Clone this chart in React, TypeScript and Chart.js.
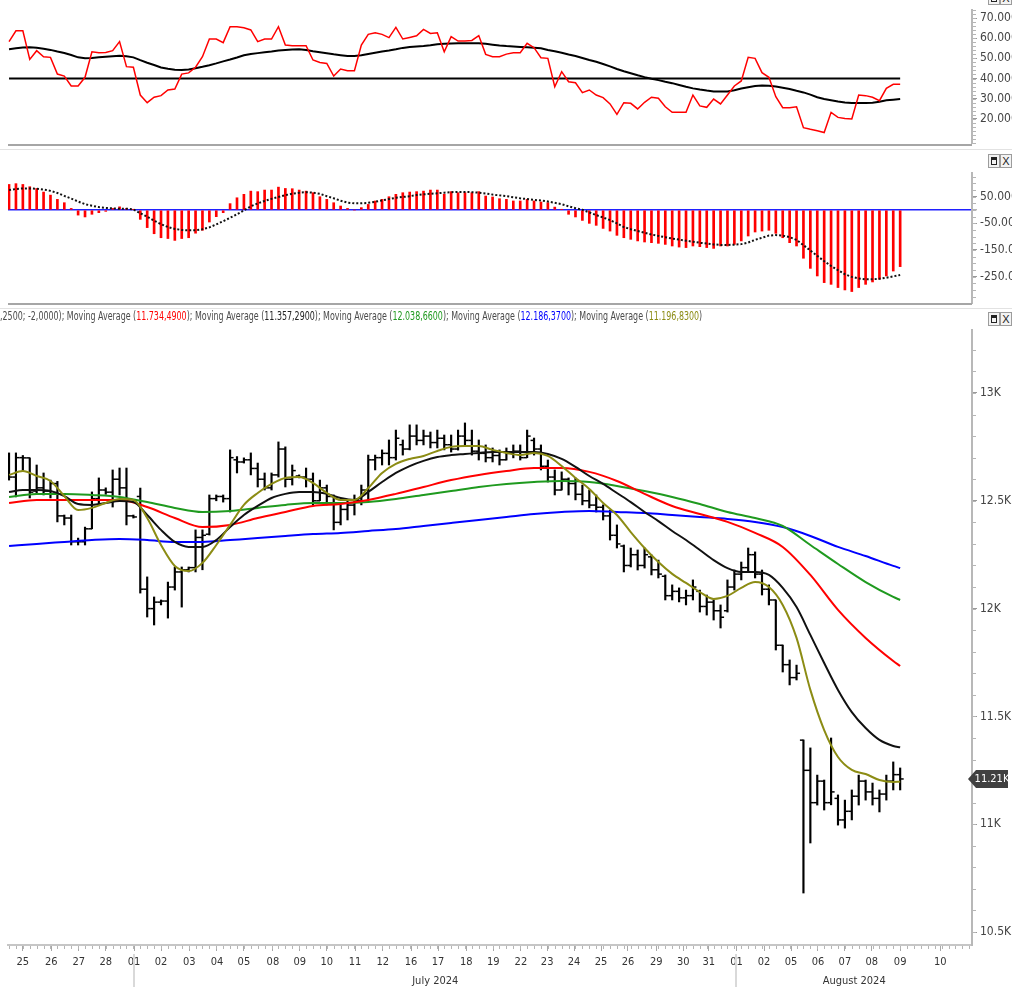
import React, { useEffect, useRef } from 'react';
import { Chart, registerables } from 'chart.js';

Chart.register(...registerables);

const FONT = '"Liberation Sans Narrow", "Arial Narrow", "DejaVu Sans Condensed", Arial, sans-serif';

// ---------- x axis (bar index positions of day starts) ----------
const dayLabels = ['25','26','27','28','01','02','03','04','05','08','09','10','11','12','16','17','18','19','22','23','24','25','26','29','30','31','01','02','05','06','07','08','09','10'];
const dayTickPos = [2.0,6.1,10.1,14.0,18.1,22.0,26.1,30.1,34.0,38.2,42.1,46.0,50.1,54.1,58.2,62.1,66.2,70.1,74.1,77.9,81.8,85.7,89.6,93.7,97.6,101.3,105.3,109.3,113.2,117.1,121.0,124.9,129.0,134.8];
const monthLabels = ['July 2024', 'August 2024'];
const monthStartPos = [18.1, 105.3];

// ---------- top panel (oscillator) ----------
const rsiValues = [58.3,63.7,63.7,49.5,53.8,50.8,50.5,42.2,41.2,36.3,
36.3,40.6,53.3,52.8,52.9,53.8,58.3,45.9,45.6,31.8,
28.0,30.7,31.5,34.3,34.8,42.2,42.8,45.6,50.8,59.6,
59.6,57.8,65.7,65.7,65.2,64.1,58.3,59.6,59.6,65.7,
56.6,56.3,56.3,56.3,49.2,48.0,47.5,41.2,44.7,43.9,
43.9,56.6,61.9,62.7,61.9,60.3,65.4,59.6,60.4,61.2,
64.4,62.4,62.7,53.3,60.8,58.6,58.6,58.9,61.3,52.0,
50.8,50.8,52.1,52.8,52.8,57.5,55.3,50.3,50.0,35.9,
43.4,38.4,37.9,33.0,34.3,31.8,30.5,27.4,22.2,28.0,
27.7,24.9,28.2,30.7,30.2,26.0,23.2,23.2,23.2,31.8,
26.4,25.7,29.8,27.4,31.8,36.3,38.8,50.5,50.0,42.9,
40.6,31.0,25.5,25.5,26.0,15.6,14.8,14.1,13.2,23.2,
20.7,20.2,19.9,31.8,31.5,30.7,29.0,35.1,37.1,37.1];
const rsiAverage = [54.5,55.0,55.4,55.5,55.3,54.8,54.2,53.4,52.7,51.7,
50.5,50.0,50.2,50.5,50.8,51.1,51.3,51.0,50.5,49.1,
47.8,46.7,45.5,44.8,44.4,44.2,44.5,45.1,45.8,46.6,
47.5,48.5,49.4,50.4,51.5,52.2,52.6,53.0,53.4,53.9,
54.2,54.4,54.5,54.1,53.5,53.0,52.5,52.0,51.6,51.2,
51.2,51.5,52.2,52.8,53.4,53.9,54.5,55.2,55.6,55.9,
56.1,56.5,57.0,57.2,57.4,57.5,57.5,57.5,57.5,57.2,
56.8,56.4,56.1,55.9,55.7,55.5,55.3,55.0,54.2,53.5,
52.8,51.9,51.2,50.2,49.2,48.3,47.2,46.0,44.7,43.6,
42.6,41.6,40.7,39.9,39.2,38.4,37.7,36.8,35.9,35.1,
34.5,34.0,33.6,33.5,33.6,34.2,35.0,35.7,36.3,36.5,
36.4,36.0,35.4,34.8,33.9,33.1,32.0,30.7,29.8,29.2,
28.6,28.1,27.8,27.8,27.9,28.0,28.5,29.2,29.5,29.8];
const rsiLevel = 40;
const topTicks = [20, 30, 40, 50, 60, 70];

// ---------- middle panel (histogram + signal) ----------
const macdHist = [96,99,96,87.5,81,67.5,56,40,27.5,6,
-19,-26,-16,-10,-5,6,12,6,2,-35,
-66,-89,-104,-107,-114,-107,-104,-87,-76,-45,
-25,-10,24,46,59,71,69,75,75,86,
81,80,75,71,65,50,40,27.5,15,6,
0,9,21,34,40,50,59,65,67.5,69,
71,75,75,59,69,65,65,65,69,52.5,
49,42.5,40,34,34,40,34,30,27.5,11,
2,-16,-26,-39,-50,-57.5,-69,-79,-95,-104,
-110,-116,-120,-122.5,-125,-129,-135,-139,-141,-135,
-137.5,-141,-144,-135,-135,-129,-116,-97.5,-82.5,-79,
-76,-87.5,-104,-122.5,-135,-181,-219,-247.5,-272.5,-279,
-291,-300,-306,-291,-279,-270,-260,-247.5,-229,-212.5];
const macdSignal = [75,79,81,81,80,77,72,64,53,43,
32,22,16,11,8,6,5,5,2,-12,
-25,-40,-53,-64,-71,-75,-76,-76,-72,-65,
-54,-42,-29,-16,-1,14,25,34,42,49,
56,61,65,67,65,61,52,44,35,28,
25,25,27,31,36,41,46,49,52,56,
59,61,63,65,67,68,68,67,65,62,
58,55,52,48,44,41,38,36,32,27,
22,14,7,1,-9,-19,-28,-38,-50,-64,
-72,-79,-85,-92,-97,-102,-107,-111,-115,-119,
-123,-126,-129,-131,-131,-130,-128,-122,-112,-104,
-96,-94,-96,-102,-112,-132,-152,-172,-192,-210,
-226,-241,-251,-257,-260,-260,-258,-254,-249,-244];
const midTicks = [50, 0, -50, -150, -250];

// ---------- main panel (OHLC) ----------
const opens = [12700,12610,12700,12699,12545,12560,12545,12580,12430,12420,
12310,12310,12370,12510,12550,12540,12600,12560,12430,12520,
12090,12000,12030,12035,12100,12170,12180,12190,12330,12345,
12510,12520,12510,12690,12680,12690,12650,12600,12560,12620,
12740,12600,12615,12610,12600,12500,12560,12520,12400,12460,
12480,12500,12550,12690,12700,12720,12700,12760,12740,12800,
12780,12800,12770,12790,12760,12740,12800,12780,12730,12720,
12700,12710,12690,12720,12730,12700,12780,12740,12660,12610,
12550,12600,12580,12530,12500,12480,12470,12430,12340,12290,
12200,12250,12200,12240,12180,12150,12060,12080,12050,12060,
12080,12010,12030,11990,11990,12100,12160,12190,12250,12160,
12090,12040,11830,11740,11680,11390,11250,11100,11200,11100,
11120,11020,11060,11130,11200,11150,11120,11140,11200,11230];
const highs = [12722,12722,12710,12699,12666,12629,12596,12590,12434,12434,
12327,12378,12541,12606,12560,12643,12652,12652,12434,12559,
12147,12054,12040,12123,12193,12193,12193,12365,12365,12527,
12527,12527,12736,12705,12699,12722,12675,12629,12629,12773,
12750,12666,12620,12652,12629,12596,12573,12527,12481,12504,
12527,12573,12712,12712,12736,12782,12828,12782,12852,12852,
12828,12819,12828,12805,12805,12828,12861,12828,12782,12759,
12745,12736,12745,12759,12759,12828,12791,12759,12689,12643,
12634,12606,12606,12573,12550,12527,12481,12457,12388,12295,
12281,12272,12281,12249,12225,12156,12110,12096,12086,12133,
12086,12063,12040,12017,12133,12179,12216,12281,12263,12179,
12110,12040,11831,11762,11738,11391,11354,11228,11205,11400,
11136,11112,11159,11228,11205,11191,11159,11228,11289,11261];
const lows = [12596,12518,12640,12513,12530,12527,12513,12402,12388,12295,
12295,12295,12370,12481,12530,12471,12527,12388,12420,12072,
11961,11924,12017,11956,12086,12007,12170,12170,12180,12341,
12500,12494,12448,12629,12675,12620,12564,12550,12550,12610,
12564,12573,12606,12564,12481,12500,12481,12365,12388,12411,
12434,12481,12504,12643,12666,12666,12689,12712,12736,12759,
12759,12745,12745,12736,12726,12735,12759,12712,12689,12680,
12680,12666,12689,12699,12689,12700,12712,12643,12587,12527,
12550,12527,12504,12481,12467,12448,12411,12318,12281,12170,
12193,12179,12188,12156,12142,12040,12040,12031,12017,12040,
11984,11970,11947,11910,11984,12086,12133,12170,12142,12063,
12017,11808,11706,11646,11669,10681,10913,11089,11066,11090,
10996,10982,11020,11089,11112,11089,11057,11112,11159,11159];
const closes = [12610,12700,12699,12540,12560,12545,12580,12430,12420,12310,
12310,12370,12510,12550,12540,12600,12560,12430,12425,12090,
12000,12030,12035,12100,12170,12180,12190,12330,12340,12510,
12520,12510,12700,12680,12690,12650,12600,12560,12620,12740,
12600,12640,12610,12600,12500,12560,12520,12400,12460,12480,
12500,12550,12690,12700,12720,12700,12790,12740,12800,12780,
12800,12770,12790,12760,12740,12800,12780,12730,12720,12700,
12710,12690,12720,12730,12700,12800,12740,12660,12610,12550,
12600,12580,12530,12500,12480,12470,12430,12340,12300,12200,
12250,12200,12250,12180,12160,12060,12080,12050,12060,12100,
12010,12030,11990,11960,12100,12160,12190,12250,12160,12090,
12040,11830,11740,11680,11700,11250,11100,11200,11100,11150,
11020,11060,11130,11200,11150,11120,11140,11200,11230,11210];

// moving averages, read every 4 bars (slow) / every 2 bars (fast)
const maSlowX = [0,4,8,12,16,20,24,28,32,36,40,44,48,52,56,60,64,68,72,76,80,84,88,92,96,100,104,108,112,116,120,124,128,129];
const maBlue = [12290,12300,12309,12318,12323,12318,12309,12309,12318,12327,12337,12346,12351,12360,12369,12383,12397,12411,12425,12439,12448,12453,12448,12443,12434,12425,12416,12402,12378,12337,12286,12244,12198,12188];
const maGreen = [12518,12532,12532,12527,12518,12494,12467,12448,12453,12467,12481,12490,12490,12494,12508,12527,12545,12564,12578,12587,12592,12587,12569,12545,12518,12485,12448,12420,12383,12295,12207,12123,12054,12040];
const maRed = [12490,12504,12504,12504,12504,12471,12420,12378,12388,12420,12448,12476,12485,12504,12532,12564,12596,12620,12638,12652,12652,12634,12592,12532,12476,12439,12402,12351,12286,12156,11994,11864,11757,11734];
const maFastX = [0,2,4,6,8,10,12,14,16,18,20,22,24,26,28,30,32,34,36,38,40,42,44,46,48,50,52,54,56,58,60,62,64,66,68,70,72,74,76,78,80,82,84,86,88,90,92,94,96,98,100,102,104,106,108,110,112,114,116,118,120,122,124,126,128,129];
const maBlack = [12541,12550,12550,12545,12522,12485,12481,12490,12499,12494,
12434,12365,12309,12286,12286,12318,12378,12434,12476,12513,
12532,12541,12541,12532,12513,12504,12541,12587,12629,12661,
12685,12703,12712,12717,12722,12726,12726,12726,12726,12717,
12694,12657,12615,12578,12536,12494,12448,12406,12360,12318,
12272,12225,12188,12170,12170,12156,12096,12007,11878,11748,
11623,11520,11446,11391,11363,11357];
const maOlive = [12620,12638,12615,12592,12522,12457,12467,12490,12508,12504,
12420,12295,12198,12174,12212,12295,12388,12481,12536,12578,
12606,12610,12583,12536,12504,12504,12559,12629,12671,12694,
12708,12731,12750,12754,12754,12736,12722,12712,12722,12708,
12661,12606,12555,12490,12434,12355,12281,12216,12161,12119,
12077,12045,12059,12096,12123,12100,12017,11864,11623,11437,
11312,11252,11233,11205,11196,11197];
const mainTicks = [10500, 11000, 11500, 12000, 12500, 13000];

const legendItems = [
  { text: '11.734,4900', color: '#ff0000' },
  { text: '11.357,2900', color: '#222222' },
  { text: '12.038,6600', color: '#1f9a1f' },
  { text: '12.186,3700', color: '#0000ff' },
  { text: '11.196,8300', color: '#8c8c14' },
];

// ---------- layout constants ----------
const W = 1012;
const AXIS_W = 40;
const X_MIN = -0.15;
const X_MAX = 139.4;

const minorTicks = {
  id: 'minorTicks',
  afterDraw(chart: any, _a: any, opts: any) {
    const ctx = chart.ctx;
    const ca = chart.chartArea;
    ctx.save();
    ctx.strokeStyle = '#b5b5b5';
    ctx.lineWidth = 1;
    if (opts && opts.yStep) {
      const ys = chart.scales.y;
      for (let v = Math.ceil(ys.min / opts.yStep) * opts.yStep; v <= ys.max; v += opts.yStep) {
        const py = Math.round(ys.getPixelForValue(v)) + 0.5;
        ctx.beginPath();
        ctx.moveTo(ca.right + 1, py);
        ctx.lineTo(ca.right + 4, py);
        ctx.stroke();
      }
    }
    if (opts && opts.xStep) {
      const xs = chart.scales.x;
      for (let v = 0; v <= xs.max; v += opts.xStep) {
        const px = Math.round(xs.getPixelForValue(v)) + 0.5;
        ctx.beginPath();
        ctx.moveTo(px, ca.bottom + 1);
        ctx.lineTo(px, ca.bottom + 4);
        ctx.stroke();
      }
    }
    ctx.restore();
  },
};

const monthPlugin = {
  id: 'months',
  afterDraw(chart: any) {
    const xs = chart.scales.x;
    const ctx = chart.ctx;
    const ca = chart.chartArea;
    ctx.save();
    monthStartPos.forEach((start, k) => {
      const end = k + 1 < monthStartPos.length ? monthStartPos[k + 1] : xs.max;
      const px = Math.round(xs.getPixelForValue(start));
      ctx.strokeStyle = '#d9d9d9';
      ctx.lineWidth = 2;
      ctx.beginPath();
      ctx.moveTo(px, ca.bottom + 9);
      ctx.lineTo(px, chart.height);
      ctx.stroke();
      const cx = (xs.getPixelForValue(start) + xs.getPixelForValue(end)) / 2;
      ctx.fillStyle = '#333';
      ctx.font = `11px ${FONT}`;
      ctx.textAlign = 'center';
      ctx.textBaseline = 'middle';
      ctx.fillText(monthLabels[k], cx, ca.bottom + 36);
    });
    ctx.restore();
  },
};

const priceTag = {
  id: 'priceTag',
  afterDraw(chart: any) {
    const ys = chart.scales.y;
    const ca = chart.chartArea;
    const ctx = chart.ctx;
    const last = closes[closes.length - 1];
    const py = Math.round(ys.getPixelForValue(last));
    const x0 = ca.right - 4;
    const x1 = ca.right + 4;
    const x2 = ca.right + 36;
    const h = 9;
    ctx.save();
    ctx.fillStyle = '#404040';
    ctx.beginPath();
    ctx.moveTo(x0, py);
    ctx.lineTo(x1, py - h);
    ctx.lineTo(x2, py - h);
    ctx.lineTo(x2, py + h);
    ctx.lineTo(x1, py + h);
    ctx.closePath();
    ctx.fill();
    ctx.fillStyle = '#ffffff';
    ctx.font = `11px ${FONT}`;
    ctx.textAlign = 'center';
    ctx.textBaseline = 'middle';
    ctx.fillText((last / 1000).toFixed(2) + 'K', (x1 + x2) / 2, py + 0.5);
    ctx.restore();
  },
};

function hiddenX() {
  return { type: 'linear', min: X_MIN, max: X_MAX, display: false, offset: false, grid: { offset: false } };
}

function yAxis(min: number, max: number, ticks: number[], fmt: (v: number) => string, zeroLine = false) {
  return {
    type: 'linear',
    position: 'right',
    min,
    max,
    afterBuildTicks: (s: any) => { s.ticks = ticks.map((v) => ({ value: v })); },
    afterFit: (s: any) => { s.width = AXIS_W; s.paddingTop = 0; s.paddingBottom = 0; },
    border: { display: true, color: '#b8b8b8', width: 2 },
    grid: {
      drawOnChartArea: zeroLine,
      drawTicks: true,
      tickLength: 5,
      tickColor: '#999',
      tickWidth: 1,
      color: (c: any) => (zeroLine && c.tick && c.tick.value === 0 ? '#2020ff' : 'rgba(0,0,0,0)'),
      lineWidth: (c: any) => (zeroLine && c.tick && c.tick.value === 0 ? 1.5 : 1),
    },
    ticks: {
      color: '#444',
      font: { family: FONT, size: 12 },
      padding: 3,
      autoSkip: false,
      callback: (v: number) => fmt(v),
    },
  };
}

const commonOpts = {
  responsive: false,
  animation: false,
  events: [],
};

function pts(values: number[]) {
  return values.map((v, i) => ({ x: i, y: v }));
}
function ptsAt(xs: number[], values: number[]) {
  return values.map((v, i) => ({ x: xs[i], y: v }));
}

function makeTop() {
  return {
    type: 'line',
    data: {
      datasets: [
        { data: pts(rsiValues), borderColor: '#ff0000', borderWidth: 1.5, pointRadius: 0, order: 0 },
        { data: pts(rsiAverage), borderColor: '#000', borderWidth: 2, pointRadius: 0, order: 1 },
        { data: [{ x: 0, y: rsiLevel }, { x: rsiValues.length - 1, y: rsiLevel }], borderColor: '#000', borderWidth: 2, pointRadius: 0, order: 2 },
      ],
    },
    options: {
      ...commonOpts,
      layout: { padding: { left: 8, top: 10, right: 0, bottom: 3 } },
      scales: { x: hiddenX(), y: yAxis(8, 74, topTicks, (v) => v.toFixed(4)) },
      plugins: { legend: { display: false }, tooltip: { enabled: false }, minorTicks: { yStep: 2 } },
    },
    plugins: [minorTicks],
  };
}

function makeMid() {
  return {
    type: 'bar',
    data: {
      datasets: [
        { type: 'line', data: pts(macdSignal), borderColor: '#111', borderWidth: 2, borderDash: [2, 2], pointRadius: 0, order: 0 },
        { type: 'bar', data: pts(macdHist), backgroundColor: '#ff0000', barThickness: 2, order: 1 },
      ],
    },
    options: {
      ...commonOpts,
      layout: { padding: { left: 8, top: 23, right: 0, bottom: 3 } },
      scales: { x: hiddenX(), y: yAxis(-349, 139, midTicks, (v) => (v === 0 ? '' : v.toFixed(4)), true) },
      plugins: { legend: { display: false }, tooltip: { enabled: false }, minorTicks: { yStep: 25 } },
    },
    plugins: [minorTicks],
  };
}

function makeMain() {
  const ma = (xs: number[], vals: number[], color: string, order: number) => ({
    type: 'line',
    data: ptsAt(xs, vals),
    borderColor: color,
    borderWidth: 2,
    pointRadius: 0,
    cubicInterpolationMode: 'monotone',
    order,
  });
  const tick = (vals: number[], shift: number) => ({
    type: 'scatter',
    data: vals.map((v, i) => ({ x: i + shift, y: v })),
    pointStyle: 'line',
    pointRadius: 1.8,
    radius: 1.8,
    borderColor: '#000',
    pointBorderColor: '#000',
    borderWidth: 1.5,
    pointBorderWidth: 1.5,
    showLine: false,
    order: 8,
  });
  return {
    type: 'bar',
    data: {
      datasets: [
        ma(maFastX, maOlive, '#8c8c14', 0),
        ma(maFastX, maBlack, '#111111', 1),
        ma(maSlowX, maRed, '#ff0000', 2),
        ma(maSlowX, maGreen, '#1f9a1f', 3),
        ma(maSlowX, maBlue, '#0000ff', 4),
        tick(opens, -0.25),
        tick(closes, 0.25),
        { type: 'bar', data: highs.map((h, i) => ({ x: i, y: [lows[i], h] })), backgroundColor: '#000', barThickness: 1.5, order: 10 },
      ],
    },
    options: {
      ...commonOpts,
      layout: { padding: { left: 8, top: 24, right: 0, bottom: 0 } },
      scales: {
        x: {
          type: 'linear',
          min: X_MIN,
          max: X_MAX,
          offset: false,
          position: 'bottom',
          afterBuildTicks: (s: any) => { s.ticks = dayTickPos.map((v) => ({ value: v })); },
          afterFit: (s: any) => { s.height = 42; s.paddingLeft = 0; s.paddingRight = 0; },
          border: { display: true, color: '#c6c6c6', width: 2 },
          grid: { offset: false, drawOnChartArea: false, drawTicks: true, tickLength: 6, tickColor: '#a8a8a8', tickWidth: 1 },
          ticks: {
            color: '#333',
            font: { family: FONT, size: 11 },
            padding: 5,
            maxRotation: 0,
            autoSkip: false,
            callback: (_v: number, idx: number) => dayLabels[idx],
          },
        },
        y: yAxis(10440, 13292, mainTicks, (v) => v / 1000 + 'K'),
      },
      plugins: { legend: { display: false }, tooltip: { enabled: false }, minorTicks: { yStep: 100, xStep: 1 } },
    },
    plugins: [minorTicks, monthPlugin, priceTag],
  };
}

function ChartCanvas({ top, height, make }: { top: number; height: number; make: () => any }) {
  const ref = useRef<HTMLCanvasElement | null>(null);
  useEffect(() => {
    const chart = new Chart(ref.current as HTMLCanvasElement, make());
    return () => chart.destroy();
  }, []);
  return (
    <canvas
      ref={ref}
      width={W}
      height={height}
      style={{ position: 'absolute', left: 0, top, width: W, height, display: 'block' }}
    />
  );
}

const btnStyle: React.CSSProperties = {
  width: 12,
  height: 14,
  boxSizing: 'border-box',
  border: '1px solid #9c9c9c',
  background: '#f3f3f3',
  fontFamily: 'Arial, "Liberation Sans", sans-serif',
  fontSize: 11,
  lineHeight: '12px',
  textAlign: 'center',
  color: '#222',
};

function PanelButtons({ top }: { top: number }) {
  return (
    <div style={{ position: 'absolute', left: 988, top, display: 'flex' }}>
      <div style={btnStyle}>
        <div style={{ width: 6, height: 8, margin: '2px auto 0', boxSizing: 'border-box', border: '1px solid #222', borderTopWidth: 3 }} />
      </div>
      <div style={btnStyle}>X</div>
    </div>
  );
}

function Line({ top, left, width, height, color }: { top: number; left: number; width: number; height: number; color: string }) {
  return <div style={{ position: 'absolute', top, left, width, height, background: color }} />;
}

export default function App() {
  return (
    <div style={{ position: 'absolute', left: 0, top: 0, width: W, height: 987, background: '#fff', overflow: 'hidden' }}>
      <ChartCanvas top={0} height={146} make={makeTop} />
      <PanelButtons top={-9} />
      <Line top={144} left={8} width={964} height={2} color="#a6a6a6" />
      <Line top={149} left={0} width={W} height={1} color="#e2e2e2" />

      <ChartCanvas top={150} height={156} make={makeMid} />
      <PanelButtons top={154} />
      <Line top={303} left={8} width={964} height={2} color="#a6a6a6" />
      <Line top={308} left={0} width={W} height={1} color="#e2e2e2" />

      <ChartCanvas top={306} height={681} make={makeMain} />
      <PanelButtons top={312} />
      <div
        style={{
          position: 'absolute',
          left: 0,
          top: 309,
          width: 972,
          height: 15,
          overflow: 'hidden',
          whiteSpace: 'nowrap',
          fontFamily: FONT,
          fontSize: 12,
          lineHeight: '15px',
          color: '#4a4a4a',
        }}
      >
        <div style={{ transform: 'scaleX(0.735)', transformOrigin: 'left top', marginLeft: -5 }}>
          3,2500; -2,0000)
          {legendItems.map((it, i) => (
            <span key={i}>
              ; Moving Average (<span style={{ color: it.color }}>{it.text}</span>)
            </span>
          ))}
        </div>
      </div>
    </div>
  );
}
